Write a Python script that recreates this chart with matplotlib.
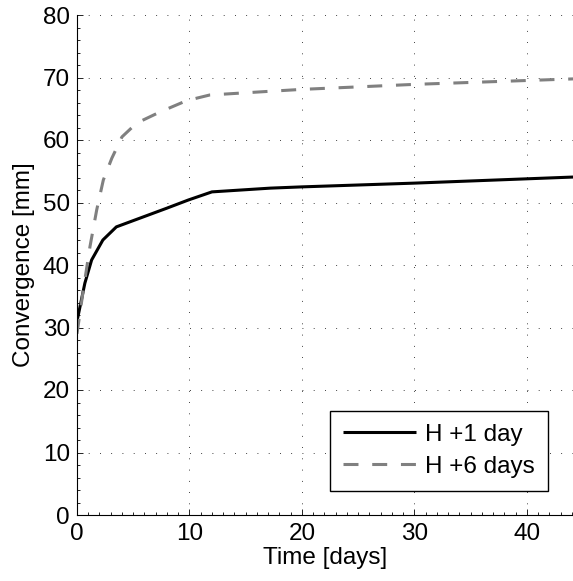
import matplotlib
matplotlib.use("Agg")
import matplotlib.pyplot as plt
from matplotlib.ticker import MultipleLocator

# --- DATA ---
t_1day = [0.0, 0.7, 1.3, 2.3, 3.5, 5.9, 8.0, 9.9, 12.0, 17.2, 20.0, 30.0, 44.5]
conv_1day = [31.0, 37.1, 40.8, 44.0, 46.1, 47.7, 49.1, 50.4, 51.7, 52.3, 52.5, 53.1, 54.1]

t_6day = [0.0, 0.56, 1.15, 1.75, 2.34, 3.1, 4.0, 5.3, 7.4, 9.75, 11.8, 17.2, 20.0, 30.0, 44.5]
conv_6day = [29.0, 36.0, 42.9, 48.8, 53.6, 57.1, 60.5, 62.7, 64.5, 66.3, 67.2, 67.8, 68.1, 68.9, 69.8]

labels = ["H +1 day", "H +6 days"]

FS = 17.5
plt.rcParams['font.family'] = ['Liberation Sans', 'DejaVu Sans']

fig = plt.figure(figsize=(5.73, 5.81), dpi=100)
ax = fig.add_axes([77 / 573, 66 / 581, (573 - 77) / 573, 500 / 581])

ax.plot(t_1day, conv_1day, color='black', lw=2.2, label=labels[0], solid_capstyle='butt')
ax.plot(t_6day, conv_6day, color='#808080', lw=2.2, linestyle=(0, (4.9, 4.5)),
        label=labels[1], dash_capstyle='butt')

ax.set_xlim(0, 44.1)
ax.set_ylim(0, 80)
ax.xaxis.set_major_locator(MultipleLocator(10))
ax.xaxis.set_minor_locator(MultipleLocator(1))
ax.yaxis.set_major_locator(MultipleLocator(10))
ax.yaxis.set_minor_locator(MultipleLocator(2))

ax.spines['top'].set_visible(False)
ax.spines['right'].set_visible(False)
for s in ['left', 'bottom']:
    ax.spines[s].set_linewidth(0.8)

ax.tick_params(which='both', direction='in', labelsize=FS, width=0.6)
ax.tick_params(which='major', length=4)
ax.tick_params(which='minor', length=2)
ax.tick_params(axis='y', which='major', pad=5)
ax.tick_params(axis='x', which='major', pad=6)

ax.grid(True, which='major', color='black', lw=0.6, linestyle=(0, (1, 12.5)))

ax.set_xlabel("Time [days]", fontsize=FS, labelpad=1)
ax.set_ylabel("Convergence [mm]", fontsize=FS, labelpad=6)

leg = ax.legend(loc='lower right', bbox_to_anchor=(548 / 573, (581 - 491) / 581),
                bbox_transform=fig.transFigure, fontsize=FS, frameon=True,
                fancybox=False, edgecolor='black', framealpha=1, handlelength=3.0,
                borderpad=0.55, labelspacing=0.4, handletextpad=0.35, borderaxespad=0)
leg.get_frame().set_linewidth(1.0)

fig.savefig("out.png", dpi=100)
